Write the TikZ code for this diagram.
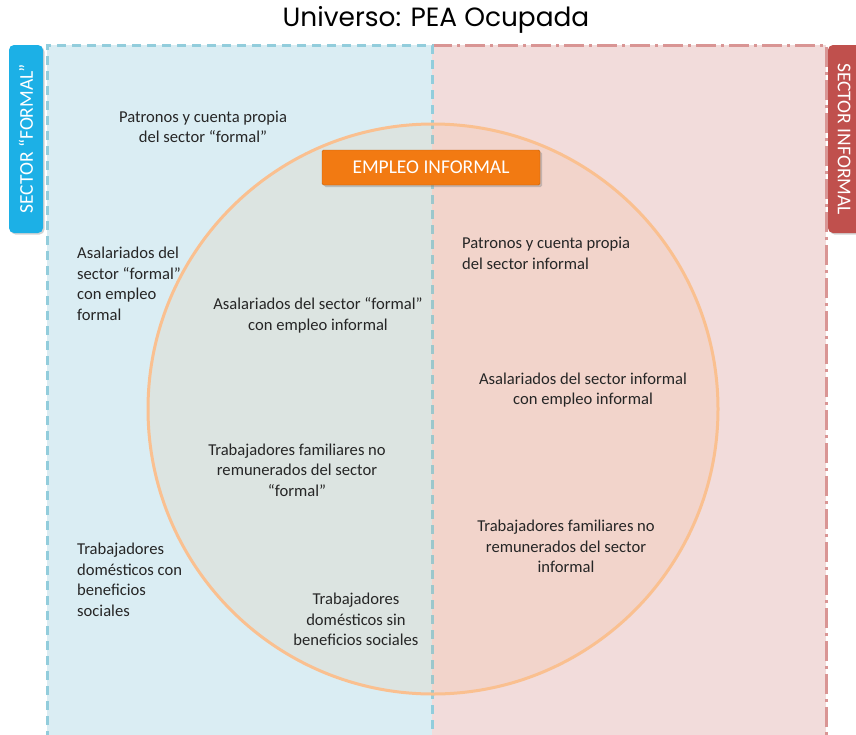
\documentclass[tikz,border=0pt]{standalone}
\usepackage{fontspec}
\setmainfont{Carlito}
\newfontfamily\titlefont{Poppins}
\usetikzlibrary{shadows}

\definecolor{formalfill}{HTML}{DAEDF3}
\definecolor{formalline}{HTML}{92CDDC}
\definecolor{formaltab}{HTML}{1CB0E6}
\definecolor{informalfill}{HTML}{F2DCDB}
\definecolor{informalline}{HTML}{D99594}
\definecolor{informaltab}{HTML}{C0504D}
\definecolor{circleline}{HTML}{FAC090}
\definecolor{circlefill}{HTML}{F79646}
\definecolor{badge}{HTML}{F27A12}

\tikzset{
  txt/.style={font=\fontsize{16.6}{20.5}\selectfont, inner sep=0pt, text=black!85},
  ctxt/.style={txt, align=center},
  ltxt/.style={txt, align=left, anchor=west},
  tab/.style={rounded corners=5pt, drop shadow={opacity=0.35, shadow xshift=1.5pt, shadow yshift=-1.5pt}},
  tablabel/.style={text=white, font=\fontsize{19.5}{22}\selectfont, inner sep=0pt}
}

\begin{document}
\begin{tikzpicture}[x=1pt, y=-1pt]
    \def\T{45}   % top of the sectors
    \def\B{740}  % bottom (runs off the page)
    \def\M{432}  % middle line
    \def\R{285}  % radius of the circle

    \clip (0,0) rectangle (856,734);
    \fill[white] (0,0) rectangle (856,734);

    % Title
    \node[font=\titlefont\fontsize{26.4}{30}\selectfont, inner sep=0pt] (title) at (436,20) {Universo: PEA Ocupada};

    % Informal sector
    \fill[informalfill] (\M,\T) rectangle (826,\B);
    \draw[informalline, line width=3pt, dash pattern=on 20pt off 5pt on 3pt off 5pt] (\M,\T) -- (826,\T) -- (826,\B);

    % Formal sector
    \fill[formalfill] (47,\T) rectangle (\M,\B);
    \draw[formalline, line width=3pt, dash pattern=on 9pt off 6pt] (47,\B) -- (47,\T) -- (\M,\T) -- (\M,\B);

    % Circle of informal employment
    \draw[circleline, line width=3pt, fill=circlefill, fill opacity=0.1] (433,409) circle (\R);

    % Side tabs
    \fill[formaltab, tab] (9,\T) rectangle (43,233);
    \node[tablabel, rotate=90] (formal) at (26,139) {SECTOR “FORMAL”};
    \fill[informaltab, tab] (828,\T) rectangle (866,233);
    \node[tablabel, rotate=-90] (informal) at (844,139) {SECTOR INFORMAL};

    % Badge
    \node[fill=badge, draw=badge!80!black, line width=0.4pt, minimum width=218pt, minimum height=35pt,
          rounded corners=1.5pt, text=white, font=\fontsize{19.5}{22}\selectfont,
          drop shadow={opacity=0.4, shadow xshift=2pt, shadow yshift=-2pt}] (badge) at (431,167.5) {EMPLEO INFORMAL};

    % Formal side texts
    \node[ctxt] (pf) at (203,127) {Patronos y cuenta propia\\del sector “formal”};
    \node[ltxt] (af) at (77,284) {Asalariados del\\sector “formal”\\con empleo\\formal};
    \node[ctxt] (ai) at (318,315.5) {Asalariados del sector “formal”\\con empleo informal};
    \node[ctxt] (tf) at (297,470) {Trabajadores familiares no\\remunerados del sector\\“formal”};
    \node[ltxt] (dc) at (77,580) {Trabajadores\\domésticos con\\beneficios\\sociales};
    \node[ctxt] (ds) at (356,619.5) {Trabajadores\\domésticos sin\\beneficios sociales};

    % Informal side texts
    \node[ltxt] (pi) at (462,253.5) {Patronos y cuenta propia\\del sector informal};
    \node[ctxt] (asi) at (583,390) {Asalariados del sector informal\\con empleo informal};
    \node[ctxt] (ti) at (566,546.5) {Trabajadores familiares no\\remunerados del sector\\informal};
\end{tikzpicture}
\end{document}
